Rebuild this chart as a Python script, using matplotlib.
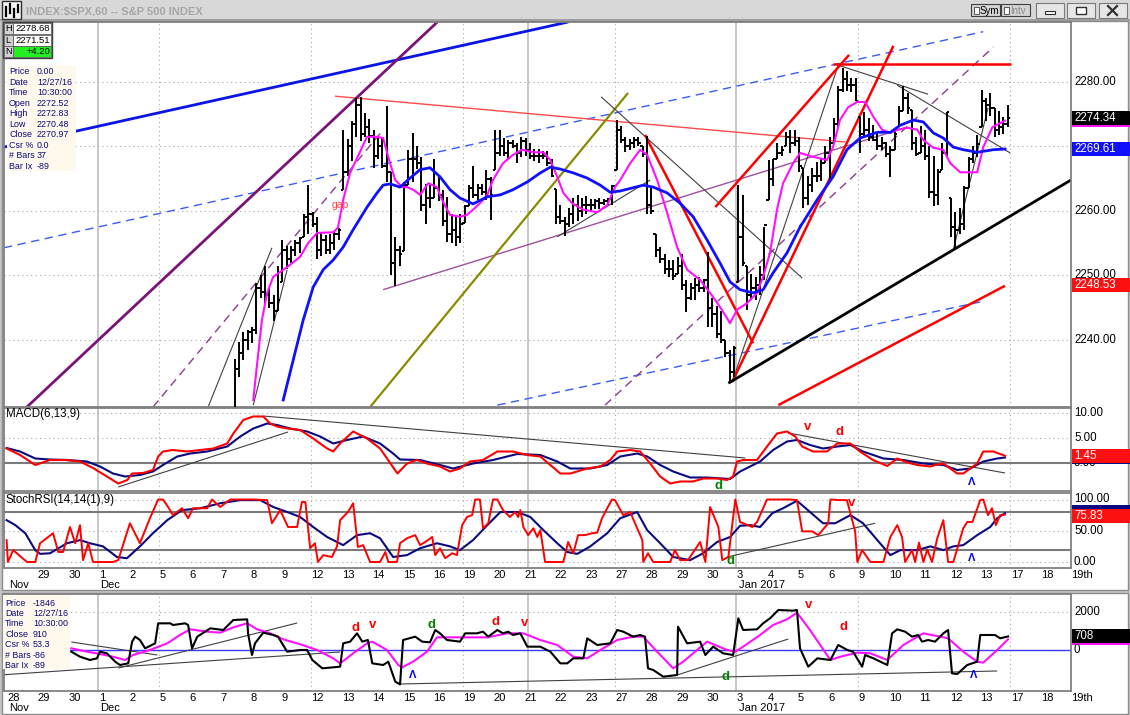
import matplotlib
matplotlib.use("Agg")
import matplotlib.pyplot as plt
from matplotlib.patches import Rectangle
from matplotlib.lines import Line2D
from matplotlib.transforms import blended_transform_factory

plt.rcParams['font.family'] = ['Liberation Sans', 'DejaVu Sans']

# x is the hourly bar number: 7 bars per session, bar 0 = Nov 28 9:30
DAY_LABELS = ["28", "29", "30", "1", "2", "5", "6", "7", "8", "9", "12", "13", "14",
              "15", "16", "19", "20", "21", "22", "23", "27", "28", "29", "30", "3",
              "4", "5", "6", "9", "10", "11", "12", "13", "17", "18", "19th"]
MONTH_LABELS = [("Nov", 0), ("Dec", 3), ("Jan 2017", 24)]
BARS_PER_DAY = 7

# hourly SPX bars from Dec 7 9:30 (earlier bars sit below the visible range)
FIRST_BAR = 49
OPEN_FIRST = 2209.5
HIGH = [
    2213.0, 2216.0, 2224.0, 2237.0, 2239.7, 2241.2, 2241.6,   # Dec 7
    2242.0, 2248.8, 2250.0, 2251.5, 2248.0, 2247.0, 2251.5,   # Dec 8
    2255.5, 2254.5, 2254.5, 2255.5, 2256.0, 2259.5, 2264.0,   # Dec 9
    2259.8, 2259.0, 2256.7, 2256.2, 2256.5, 2256.7, 2257.3,   # Dec 12
    2272.6, 2271.1, 2274.0, 2277.5, 2277.7, 2275.2, 2274.2,   # Dec 13
    2272.6, 2271.3, 2271.5, 2276.2, 2266.0, 2256.0, 2254.5,   # Dec 14
    2264.5, 2269.5, 2272.1, 2270.0, 2268.3, 2264.2, 2264.0,   # Dec 15
    2268.0, 2265.5, 2263.3, 2262.2, 2259.6, 2259.2, 2259.5,   # Dec 16
    2261.0, 2264.0, 2267.0, 2264.2, 2264.2, 2266.3, 2265.3,   # Dec 19
    2272.6, 2272.6, 2271.3, 2271.0, 2271.0, 2270.5, 2271.5,   # Dec 20
    2271.3, 2270.5, 2269.6, 2269.6, 2269.3, 2269.3, 2268.0,   # Dec 21
    2263.4, 2261.0, 2259.1, 2260.5, 2262.0, 2262.5, 2262.0,   # Dec 22
    2262.4, 2261.8, 2261.8, 2262.0, 2261.8, 2262.0, 2264.0,   # Dec 23
    2274.1, 2273.1, 2271.5, 2271.2, 2271.5, 2271.5, 2270.0,   # Dec 27
    2271.7, 2263.5, 2256.5, 2254.4, 2253.4, 2252.4, 2252.4,   # Dec 28
    2252.9, 2253.4, 2249.3, 2248.8, 2249.6, 2249.8, 2249.5,   # Dec 29
    2253.6, 2246.5, 2245.2, 2244.5, 2240.0, 2238.5, 2239.0,   # Dec 30
    2264.0, 2262.5, 2251.4, 2250.3, 2249.8, 2251.4, 2257.5,   # Jan 3
    2267.9, 2268.0, 2270.5, 2270.0, 2272.3, 2272.6, 2272.6,   # Jan 4
    2271.5, 2266.6, 2265.5, 2266.6, 2267.6, 2268.2, 2270.0,   # Jan 5
    2271.4, 2274.4, 2279.4, 2282.1, 2281.7, 2280.6, 2280.6,   # Jan 6
    2274.5, 2275.3, 2274.4, 2273.4, 2272.3, 2271.4, 2270.7,   # Jan 9
    2270.0, 2272.6, 2276.2, 2279.3, 2278.3, 2275.7, 2271.5,   # Jan 10
    2273.1, 2272.6, 2270.0, 2268.5, 2266.5, 2270.5, 2275.3,   # Jan 11
    2262.0, 2259.8, 2260.5, 2263.8, 2268.4, 2270.0, 2271.8,   # Jan 12
    2278.7, 2277.5, 2278.3, 2276.0, 2275.5, 2274.5, 2276.5,   # Jan 13
]
LOW = [
    2208.9, 2211.0, 2213.0, 2224.0, 2234.3, 2236.9, 2238.5,
    2239.5, 2241.0, 2246.5, 2245.5, 2245.0, 2243.0, 2244.5,
    2249.0, 2251.0, 2252.0, 2253.0, 2253.5, 2256.0, 2256.5,
    2257.5, 2252.5, 2253.0, 2253.4, 2253.4, 2253.9, 2255.5,
    2263.3, 2265.4, 2267.8, 2271.5, 2270.9, 2271.5, 2270.5,
    2266.6, 2268.0, 2266.6, 2264.5, 2250.0, 2248.3, 2251.5,
    2253.8, 2264.0, 2264.5, 2266.5, 2260.0, 2258.0, 2260.5,
    2262.0, 2261.5, 2257.6, 2255.2, 2255.0, 2254.5, 2255.0,
    2258.2, 2260.7, 2262.0, 2261.7, 2262.5, 2261.7, 2258.6,
    2266.4, 2268.5, 2268.5, 2268.0, 2269.8, 2267.5, 2268.3,
    2268.5, 2268.0, 2267.7, 2267.4, 2268.0, 2267.0, 2265.2,
    2258.0, 2258.0, 2256.1, 2257.5, 2258.0, 2258.5, 2259.0,
    2259.5, 2260.0, 2260.3, 2260.3, 2261.0, 2261.0, 2261.0,
    2266.4, 2270.5, 2269.1, 2269.5, 2269.8, 2270.0, 2268.4,
    2259.6, 2259.6, 2252.9, 2251.9, 2250.3, 2249.8, 2249.3,
    2250.3, 2247.7, 2244.4, 2246.2, 2246.2, 2247.5, 2247.5,
    2242.0, 2242.0, 2240.3, 2239.5, 2237.4, 2233.5, 2234.3,
    2249.0, 2251.4, 2244.7, 2246.2, 2246.2, 2247.0, 2249.3,
    2261.7, 2263.8, 2268.0, 2268.5, 2270.0, 2269.0, 2270.0,
    2266.1, 2260.5, 2261.0, 2263.0, 2264.5, 2264.7, 2267.4,
    2264.5, 2270.5, 2273.0, 2278.5, 2278.6, 2278.5, 2277.0,
    2269.0, 2271.4, 2270.9, 2270.9, 2269.5, 2269.5, 2268.4,
    2265.3, 2269.5, 2273.0, 2275.5, 2275.0, 2269.5, 2268.5,
    2269.0, 2267.9, 2262.0, 2260.8, 2261.0, 2266.3, 2268.4,
    2256.0, 2254.3, 2256.5, 2257.0, 2263.5, 2267.4, 2268.4,
    2273.0, 2274.0, 2274.7, 2271.5, 2271.8, 2272.0, 2273.0,
]
CLOSE = [
    2212.0, 2214.0, 2223.0, 2235.5, 2238.0, 2240.0, 2241.3,
    2241.5, 2248.0, 2247.5, 2247.0, 2245.8, 2244.5, 2246.2,
    2254.0, 2252.5, 2254.0, 2255.0, 2255.8, 2259.0, 2259.5,
    2258.0, 2254.0, 2255.5, 2254.0, 2255.0, 2256.5, 2257.0,
    2266.0, 2270.0, 2273.5, 2276.5, 2272.0, 2273.0, 2271.7,
    2268.5, 2270.0, 2267.0, 2266.0, 2252.0, 2254.0, 2253.3,
    2264.0, 2268.0, 2268.0, 2267.5, 2261.0, 2262.0, 2262.0,
    2263.5, 2262.5, 2258.5, 2256.5, 2257.0, 2256.0, 2258.0,
    2260.8, 2263.5, 2262.5, 2263.5, 2263.0, 2265.0, 2262.5,
    2269.0, 2270.0, 2269.0, 2270.5, 2270.0, 2269.0, 2270.8,
    2269.5, 2268.5, 2268.5, 2268.5, 2268.5, 2267.5, 2265.5,
    2259.0, 2258.5, 2258.0, 2259.5, 2261.0, 2260.0, 2261.0,
    2261.0, 2261.0, 2261.5, 2261.2, 2261.5, 2261.8, 2263.8,
    2272.5, 2271.0, 2270.0, 2270.5, 2271.0, 2270.5, 2268.9,
    2261.0, 2260.0, 2254.0, 2252.5, 2251.0, 2251.0, 2249.9,
    2251.5, 2248.5, 2246.5, 2248.0, 2248.5, 2248.0, 2249.3,
    2245.0, 2244.0, 2241.0, 2240.0, 2238.0, 2235.0, 2238.8,
    2256.0, 2252.0, 2247.0, 2248.0, 2248.5, 2250.0, 2257.8,
    2265.0, 2268.0, 2269.0, 2269.5, 2271.5, 2270.5, 2270.8,
    2267.0, 2262.0, 2264.0, 2265.5, 2265.5, 2267.5, 2269.0,
    2270.5, 2273.5, 2278.8, 2280.5, 2279.5, 2279.5, 2277.0,
    2272.0, 2272.5, 2271.5, 2271.0, 2270.0, 2270.5, 2268.9,
    2269.5, 2272.0, 2275.5, 2277.5, 2276.0, 2270.5, 2268.9,
    2270.0, 2268.5, 2263.0, 2262.5, 2266.0, 2269.0, 2275.3,
    2257.5, 2257.0, 2258.0, 2263.5, 2268.0, 2269.0, 2270.4,
    2277.0, 2276.5, 2276.0, 2272.5, 2273.0, 2273.5, 2274.34,
]

# price averages (bar, price)
PINK_MA = [(56.8, 2230.7), (57.7, 2236.4), (58.8, 2243.1), (60.0, 2247.3), (61.4, 2249.8),
           (64.6, 2251.3), (67.6, 2252.9), (69.4, 2255.0), (71.5, 2256.6), (75.2, 2256.7),
           (76.3, 2257.4), (77.5, 2261.7), (79.1, 2265.9), (80.7, 2268.2), (83.0, 2271.5),
           (85.3, 2271.5), (86.7, 2271.3), (88.3, 2267.4), (89.5, 2264.8), (91.1, 2263.7),
           (92.2, 2263.7), (93.6, 2263.3), (95.2, 2262.5), (97.1, 2264.3), (99.1, 2263.7),
           (100.3, 2261.7), (102.1, 2259.4), (104.4, 2259.1), (106.0, 2259.4), (107.4, 2260.2),
           (109.0, 2261.2), (110.7, 2262.5), (112.0, 2264.8), (114.3, 2267.4), (116.6, 2268.7),
           (118.7, 2269.5), (121.3, 2269.1), (123.6, 2269.1), (125.2, 2267.9), (126.8, 2265.3),
           (128.2, 2262.8), (130.2, 2261.2), (132.8, 2260.2), (136.0, 2259.8), (138.3, 2260.9),
           (140.1, 2263.7), (141.3, 2264.8), (143.6, 2267.4), (145.9, 2269.5), (147.5, 2268.7),
           (149.8, 2264.8), (152.1, 2259.7), (154.4, 2254.4), (156.7, 2250.9), (159.7, 2249.3),
           (162.0, 2247.3), (164.3, 2245.1), (166.6, 2242.6), (168.2, 2244.7), (170.5, 2245.7),
           (172.8, 2247.3), (174.2, 2249.8), (175.8, 2253.5), (177.4, 2260.2), (178.8, 2264.3),
           (181.1, 2267.4), (182.7, 2269.0), (185.7, 2268.4), (188.9, 2267.9), (190.3, 2269.9),
           (191.9, 2274.1), (193.8, 2276.1), (195.9, 2276.9), (197.7, 2276.9), (199.6, 2274.6),
           (201.6, 2272.6), (203.5, 2272.1), (205.1, 2272.6), (207.4, 2272.9), (209.7, 2272.6),
           (211.1, 2271.0), (213.4, 2269.8), (215.7, 2269.5), (217.3, 2267.4), (219.6, 2266.0),
           (221.9, 2266.0), (223.5, 2266.0), (224.9, 2269.9), (227.0, 2273.0), (229.9, 2274.0)]
BLUE_MA = [(63.7, 2230.7), (66.0, 2236.9), (68.3, 2243.1), (70.6, 2248.2), (72.9, 2250.9),
           (75.2, 2252.4), (77.5, 2254.4), (79.8, 2257.1), (83.0, 2260.6), (85.3, 2262.8),
           (86.7, 2264.0), (88.3, 2264.2), (90.6, 2263.7), (92.9, 2265.1), (95.2, 2266.4),
           (97.5, 2266.7), (99.8, 2265.3), (102.1, 2263.3), (104.4, 2262.0), (107.4, 2261.1),
           (110.7, 2262.2), (113.7, 2262.5), (116.6, 2263.3), (119.9, 2264.5), (122.9, 2265.9),
           (125.2, 2266.8), (127.5, 2266.5), (130.5, 2265.9), (133.7, 2265.1), (136.7, 2264.0),
           (139.0, 2262.9), (141.3, 2263.1), (146.6, 2264.0), (148.9, 2263.7), (152.1, 2262.8),
           (155.1, 2261.2), (158.1, 2259.1), (161.3, 2255.5), (164.3, 2251.9), (166.6, 2249.0),
           (168.9, 2247.8), (171.9, 2247.3), (174.2, 2247.8), (176.5, 2250.4), (179.7, 2253.5),
           (182.7, 2257.5), (186.6, 2261.7), (190.3, 2265.3), (193.5, 2269.5), (196.5, 2271.3),
           (200.5, 2272.2), (203.5, 2272.2), (205.8, 2273.3), (208.8, 2274.1), (211.1, 2273.8),
           (213.4, 2272.1), (215.7, 2271.3), (218.0, 2269.9), (220.3, 2269.5), (223.5, 2269.1),
           (227.2, 2269.5), (229.9, 2269.61)]

# hand-drawn lines on the price pane (x0, p0, x1, p1)
BLUE_THICK = [(-0.6, 2269.9, 129.3, 2289.3)]
PURPLE_THICK = [(4.5, 2229.5, 99.2, 2289.3)]
PURPLE_DASHED = [(33.7, 2229.6, 86.5, 2272.4), (137.8, 2229.9, 227.2, 2285.4)]
OLIVE_LINE = [(83.7, 2229.6, 143.1, 2278.3)]
RED_THIN = [(75.6, 2277.8, 193.1, 2270.7)]
BLUE_DASHED = [(-0.6, 2254.3, 224.9, 2287.8), (113.0, 2229.9, 224.2, 2245.9)]
PURPLE_THIN = [(86.7, 2247.8, 207.4, 2273.0)]
RED_THICK = [(147.0, 2271.8, 171.9, 2239.5), (167.1, 2233.5, 204.2, 2285.6),
             (163.2, 2260.6, 194.0, 2284.2), (190.3, 2282.8, 231.3, 2282.8),
             (177.7, 2229.9, 229.9, 2248.4)]
BLACK_THICK = [(166.2, 2233.3, 245.1, 2264.8)]
BLACK_THIN = [(126.8, 2256.0, 148.2, 2264.8), (136.9, 2277.7, 183.2, 2249.6),
              (167.1, 2233.5, 191.5, 2282.6), (191.5, 2282.6, 212.2, 2278.1),
              (205.1, 2279.5, 231.1, 2269.0), (218.0, 2254.0, 226.0, 2276.0),
              (46.4, 2229.6, 61.1, 2254.3), (56.8, 2229.9, 64.6, 2250.9)]

# MACD(6,13,9)
MACD_LINE = [(0, 2.9), (3.1, 1.6), (6.6, -0.4), (10.0, 0.6), (13.5, 0.6), (16.9, 0.3), (19.9, -1.0),
             (23.1, -2.7), (25.7, -4.1), (27.8, -3.4), (28.9, -2.1), (31.4, -2.0), (33.7, -1.4),
             (34.9, 1.3), (36.0, 2.3), (38.3, 2.6), (41.6, 2.3), (44.6, 2.6), (47.6, 2.9), (50.8, 3.9),
             (52.2, 5.9), (54.5, 8.6), (56.8, 9.3), (59.1, 9.3), (60.7, 7.9), (62.3, 7.3), (64.6, 6.9),
             (67.6, 6.6), (70.6, 4.9), (73.8, 2.9), (75.2, 2.3), (76.8, 3.9), (79.8, 6.3), (83.0, 4.9),
             (86.0, 2.9), (87.6, 0.9), (90.0, -2.1), (92.2, -0.1), (94.5, 0.6), (96.8, -0.1),
             (99.8, -0.7), (102.1, -1.7), (104.4, -1.1), (106.7, 0.3), (109.7, 0.6), (113.0, 2.3),
             (116.6, 2.3), (119.9, 1.6), (122.9, 1.3), (125.2, -0.4), (127.5, -2.1), (129.8, -2.1),
             (133.7, -1.1), (136.7, -0.7), (139.0, 0.6), (140.6, 2.3), (143.6, 2.6), (145.9, 2.3),
             (148.2, -0.1), (150.5, -2.7), (152.8, -4.1), (155.1, -3.7), (158.1, -3.7), (160.4, -3.1),
             (163.6, -3.1), (165.9, -3.4), (167.3, -2.7), (168.2, 0.3), (169.6, 0.6), (172.8, 0.6),
             (175.1, 3.3), (177.4, 5.9), (179.7, 6.3), (181.6, 5.3), (183.2, 3.3), (185.7, 2.3),
             (188.9, 2.3), (191.3, 3.9), (194.3, 3.9), (196.5, 2.3), (199.5, 0.6), (202.8, -0.6),
             (205.1, 0.9), (207.4, 0.1), (209.7, -0.4), (212.7, -0.7), (213.8, -0.4), (215.7, -0.1),
             (217.3, -1.1), (218.9, -2.1), (220.3, -2.1), (221.9, -1.1), (223.5, -0.1), (224.9, 2.3),
             (227.2, 2.3), (229.9, 1.45)]
MACD_SIGNAL = [(0, 3.0), (3.1, 2.3), (6.6, 0.9), (10.0, 0.7), (13.9, 0.6), (18.5, 0.3), (21.5, -0.7),
               (24.5, -2.1), (27.3, -2.7), (30.7, -2.4), (33.7, -1.7), (36.0, -0.4), (39.3, 1.3),
               (42.3, 1.9), (46.2, 2.3), (50.8, 3.3), (53.8, 5.3), (56.8, 6.9), (60.0, 7.9),
               (62.3, 7.6), (65.3, 6.9), (69.2, 6.3), (72.2, 5.3), (75.2, 3.9), (78.4, 4.6),
               (82.1, 5.3), (86.0, 3.9), (89.0, 1.9), (90.6, 0.7), (95.2, 0.6), (99.8, -0.4),
               (102.8, -1.1), (107.4, -0.1), (112.0, 0.6), (117.6, 1.8), (122.9, 1.6), (126.8, 0.3),
               (129.8, -1.1), (134.4, -1.1), (138.3, -0.4), (141.3, 1.3), (145.2, 1.9), (147.5, 1.3),
               (150.5, -0.4), (153.5, -1.7), (157.4, -2.9), (161.3, -2.9), (166.6, -3.2),
               (168.9, -1.7), (171.2, -0.7), (173.5, 0.3), (176.5, 2.6), (179.7, 4.3), (182.0, 4.6),
               (185.0, 3.6), (188.0, 2.9), (191.3, 3.3), (194.3, 3.6), (197.2, 2.3), (201.9, 0.9),
               (206.5, 0.6), (211.1, -0.1), (215.7, -0.4), (218.9, -1.4), (221.9, -1.1),
               (224.9, 0.3), (228.1, 0.9), (229.9, 1.1)]
MACD_TRENDS = [(25.7, -4.8, 64.8, 6.2), (59.1, 9.4, 170.1, 1.0), (180.0, 6.0, 229.9, -2.0)]

# StochRSI(14,14(1),9)
STOCH_K = [(0, 35), (0.3, 0), (1.5, 19), (4.7, 0), (6.6, 0), (7.7, 30), (10.7, 46), (11.9, 16),
           (13.0, 16), (14.6, 56), (15.8, 30), (16.9, 59), (17.6, 3), (18.8, 30), (19.9, 0),
           (24.5, 0), (25.7, 3), (28.4, 62), (30.7, 30), (33.0, 70), (34.9, 100), (36.0, 100),
           (37.2, 88), (38.3, 75), (40.4, 86), (41.8, 70), (42.9, 86), (46.2, 86), (47.3, 100),
           (49.2, 88), (51.5, 100), (56.8, 100), (60.0, 99), (61.1, 62), (63.0, 83), (64.8, 56),
           (66.9, 56), (68.0, 96), (68.8, 96), (69.9, 22), (71.0, 30), (71.7, 0), (72.9, 11),
           (74.9, 8), (76.1, 25), (76.8, 67), (78.6, 80), (79.8, 94), (80.9, 24), (82.1, 27),
           (83.7, 0), (86.0, 0), (87.2, 16), (87.9, 0), (89.9, 0), (90.6, 30), (92.2, 38),
           (94.1, 43), (95.2, 27), (96.4, 32), (98.0, 40), (98.7, 11), (99.8, 22), (101.0, 6),
           (102.6, 14), (103.7, 11), (104.9, 59), (106.0, 72), (107.2, 75), (107.9, 100),
           (109.0, 100), (109.7, 54), (110.9, 62), (112.0, 100), (113.0, 100), (114.3, 83),
           (115.9, 72), (117.1, 80), (117.8, 72), (118.3, 83), (119.0, 56), (120.1, 43),
           (121.3, 54), (122.2, 40), (122.9, 51), (124.0, 0), (128.2, 0), (129.3, 32), (130.5, 14),
           (131.6, 43), (133.2, 43), (134.8, 46), (136.0, 47), (137.1, 70), (138.3, 86),
           (139.4, 100), (140.1, 99), (142.0, 75), (143.6, 80), (145.2, 54), (146.4, 35),
           (146.6, 0), (147.7, 14), (148.9, 0), (152.8, 0), (153.9, 19), (155.1, 3), (156.9, 3),
           (159.7, 32), (160.9, 0), (162.0, 88), (163.9, 56), (164.8, 3), (166.2, 8), (167.8, 100),
           (168.9, 64), (171.7, 56), (172.8, 64), (175.1, 100), (180.4, 100), (182.0, 99),
           (183.2, 49), (185.5, 49), (186.9, 43), (189.2, 62), (189.7, 100), (191.9, 99),
           (193.5, 99), (195.4, 49), (195.9, 0), (197.0, 19), (198.9, 0), (201.9, 0), (203.5, 40),
           (205.1, 59), (206.2, 40), (206.9, 0), (208.5, 19), (209.2, 0), (210.1, 31), (211.1, 0),
           (212.0, 20), (213.1, 0), (214.3, 38), (215.7, 67), (216.8, 0), (218.0, 0), (220.3, 54),
           (221.2, 64), (222.4, 64), (224.2, 99), (224.9, 100), (226.0, 75), (226.9, 86),
           (227.8, 59), (228.8, 75), (229.9, 75.83)]
STOCH_D = [(0, 67), (2.0, 59), (4.3, 46), (6.6, 19), (7.7, 13), (10.0, 14), (13.9, 30), (16.9, 35),
           (19.2, 30), (22.2, 25), (25.4, 8), (27.7, 6), (30.7, 25), (33.7, 46), (37.0, 67),
           (40.4, 83), (44.6, 86), (49.2, 94), (53.8, 99), (58.4, 99), (61.4, 88), (64.6, 80),
           (67.6, 72), (70.6, 56), (73.8, 40), (77.5, 27), (80.7, 43), (83.7, 46), (86.0, 38),
           (89.0, 8), (92.2, 11), (95.2, 22), (99.1, 30), (102.1, 25), (104.4, 19), (107.4, 35),
           (110.7, 59), (113.7, 80), (117.6, 80), (120.6, 72), (123.6, 51), (126.8, 30),
           (129.1, 16), (131.4, 13), (134.4, 25), (138.3, 46), (141.3, 70), (145.2, 80),
           (147.5, 51), (150.5, 30), (153.5, 8), (157.4, 3), (160.4, 14), (163.6, 32), (166.6, 40),
           (168.9, 58), (171.2, 59), (173.5, 56), (176.3, 78), (178.8, 86), (182.0, 98),
           (185.0, 80), (188.0, 62), (190.8, 62), (194.3, 75), (197.2, 62), (200.5, 35),
           (203.5, 11), (205.8, 19), (209.7, 19), (212.7, 25), (215.7, 19), (218.0, 25),
           (220.3, 27), (223.5, 43), (226.5, 56), (228.1, 70), (229.9, 78)]
STOCH_TRENDS = [(165.9, 8, 200.0, 62)]

# lower breadth oscillator and its average
OSC = [(14.9, -88), (16.9, -350), (19.2, -522), (20.8, -435), (21.5, -88), (23.1, -174), (25.0, -609),
       (26.1, -783), (28.0, -696), (28.9, 435), (29.6, 696), (30.7, 522), (31.9, 87), (34.2, 348),
       (34.9, 1392), (37.7, 1392), (38.3, 1305), (41.1, 1392), (41.8, 1305), (42.7, 87), (43.9, 696),
       (46.9, 1131), (49.9, 1044), (52.2, 1566), (55.4, 1600), (55.6, 870), (56.5, -261), (57.2, 348),
       (59.1, 905), (61.4, 783), (62.5, 696), (64.6, -87), (67.6, 0), (69.2, 0), (70.4, -522),
       (72.7, -957), (76.8, -870), (77.5, 348), (79.1, 435), (80.7, 870), (81.9, 435), (83.2, 522),
       (84.2, -696), (86.7, -783), (87.9, -609), (89.5, -1653), (90.6, -1793), (91.3, 522),
       (94.1, 696), (95.7, 435), (97.5, 400), (98.7, 1044), (99.8, 870), (101.4, 522), (104.4, 435),
       (105.6, 870), (108.3, 870), (109.7, 957), (110.9, 696), (113.0, 1044), (114.3, 870),
       (115.5, 957), (116.6, 783), (118.3, 870), (119.9, 174), (122.9, 174), (125.2, -87),
       (127.5, -696), (129.1, -696), (130.5, -435), (132.8, -435), (133.7, 609), (136.0, 261),
       (139.0, 348), (140.6, 1044), (142.0, 957), (144.3, 696), (145.9, 783), (147.0, 696),
       (147.7, -957), (148.9, -1044), (151.2, -1392), (154.4, -1305), (154.6, 1218), (156.7, 348),
       (159.7, 435), (160.9, -261), (162.7, 174), (165.0, -174), (167.3, -261), (168.5, 1653),
       (169.6, 1044), (172.8, 1079), (174.2, 1392), (175.8, 1653), (177.7, 2088), (181.1, 2053),
       (182.0, 2088), (182.7, 87), (184.6, -870), (186.7, -435), (189.7, -522), (191.5, 261),
       (193.6, 0), (194.9, -87), (197.0, -870), (197.7, -261), (199.6, -435), (202.8, -783),
       (203.9, 870), (205.1, 1079), (206.9, 957), (208.5, 696), (209.9, 783), (210.8, 435),
       (212.2, 522), (213.8, 435), (215.7, 870), (216.8, 1044), (217.7, -1218), (218.9, -1253),
       (221.2, -783), (223.5, -609), (224.2, 783), (227.6, 783), (228.8, 609), (230.6, 708)]
OSC_MA = [(14.9, 87), (18.5, -87), (21.5, -209), (24.5, -350), (27.3, -522), (29.1, -261), (33.0, 0),
          (37.0, 348), (39.9, 783), (42.3, 1079), (46.2, 957), (49.2, 905), (52.2, 1183), (55.4, 1392),
          (57.7, 1079), (60.7, 870), (63.7, 557), (67.6, 300), (71.5, 0), (75.2, -435), (76.8, -696),
          (79.8, -174), (83.0, 348), (84.2, 435), (87.6, 0), (90.2, -783), (91.1, -905), (93.6, -609),
          (96.8, -87), (99.1, 661), (104.4, 661), (110.7, 661), (115.3, 870), (119.0, 870),
          (122.9, 522), (126.8, 261), (130.5, -350), (133.7, -435), (136.7, 0), (140.6, 522),
          (144.3, 696), (146.6, 696), (149.8, -87), (153.5, -957), (155.8, -609), (161.3, 435),
          (165.9, 0), (167.8, -87), (169.6, 174), (173.5, 783), (176.5, 1305), (179.7, 1600),
          (182.0, 1949), (185.0, 1044), (189.7, -522), (192.0, -350), (195.9, -139), (198.9, -174),
          (202.8, -522), (206.5, 261), (211.1, 870), (215.0, 696), (216.8, 609), (220.3, -87),
          (223.5, -609), (224.9, -661), (228.1, 0), (230.6, 557)]
OSC_TRENDS = [(-1.5, -1305, 76.8, -104), (14.9, 418, 34.7, -261), (25.7, -940, 66.9, 1409),
              (90.6, -1775, 228.1, -1096), (154.4, -1305, 180.0, 574)]

# signal letters (text, colour key, bar, value)
MACD_MARKS = [("v", "r", 184.4, 7.2), ("d", "r", 191.9, 6.2), ("d", "g", 163.9, -4.6), ("^", "b", 222.1, -3.8)]
STOCH_MARKS = [("v", "r", 194.7, 94), ("d", "g", 166.6, 1), ("^", "b", 222.1, 6)]
OSC_MARKS = [("d", "r", 80.3, 1148), ("v", "r", 84.4, 1305), ("^", "b", 93.6, -1305),
             ("d", "g", 97.8, 1305), ("d", "r", 112.5, 1462), ("v", "r", 119.4, 1409),
             ("d", "g", 165.5, -1409), ("v", "r", 184.6, 2349), ("d", "r", 192.6, 1200),
             ("^", "b", 222.6, -1305)]

PRICE_TICKS = [2280, 2260, 2250, 2240]      # 2270.00 is hidden under the average's box
MACD_TICKS = [10, 5, 0]
STOCH_TICKS = [100, 50, 0]
OSC_TICKS = [2000, 0]
LAST_CLOSE, LAST_BLUE, LAST_RED = 2274.34, 2269.61, 2248.53
LAST_MACD, LAST_STOCH, LAST_OSC = 1.45, 75.83, 708

HLN = [("H", "2278.68"), ("L", "2271.51"), ("N", "+4.20")]
INFO_PRICE = [("Price", "0.00"), ("Date", "12/27/16"), ("Time", "10:30:00"), ("Open", "2272.52"),
              ("High", "2272.83"), ("Low", "2270.48"), ("Close", "2270.97"), ("Csr %", "0.0"),
              ("# Bars", "37"), ("Bar Ix", "-89")]
INFO_OSC = [("Price", "-1846"), ("Date", "12/27/16"), ("Time", "10:30:00"), ("Close", "910"),
            ("Csr %", "53.3"), ("# Bars", "-86"), ("Bar Ix", "-89")]

W, H = 1130, 715
NAVY = '#0a0a80'
MARK_COL = {"r": '#ff0000', "g": '#008000', "b": '#0000ff'}


def fx(px):
    return px / W


def fy(py):
    return 1 - py / H


fig = plt.figure(figsize=(W / 100, H / 100), dpi=100)
fig.patch.set_facecolor('#c4c4c4')


def rect(x0, y0, x1, y1, z=1, **kw):
    r = Rectangle((fx(x0), fy(y1)), (x1 - x0) / W, (y1 - y0) / H,
                  transform=fig.transFigure, zorder=z, **kw)
    fig.add_artist(r)
    return r


def label(x, y, s, z=5, **kw):
    kw.setdefault('va', 'center')
    kw.setdefault('ha', 'left')
    return fig.text(fx(x), fy(y), s, zorder=z, **kw)


def seg(x0, y0, x1, y1, **kw):
    fig.add_artist(Line2D([fx(x0), fx(x1)], [fy(y0), fy(y1)], transform=fig.transFigure, **kw))


def panel(x0, y0, x1, y1, ylim):
    ax = fig.add_axes([fx(x0), fy(y1), (x1 - x0) / W, (y1 - y0) / H])
    ax.set_xlim(-0.6, 245.1)
    ax.set_ylim(*ylim)
    ax.set_xticks([])
    ax.set_yticks([])
    for s in ax.spines.values():
        s.set_color('#808080')
        s.set_linewidth(1.3)
    return ax


def py_of(ax, v):
    return H - ax.transData.transform((0, v))[1]


def draw_lines(ax, lines, **kw):
    for x0, y0, x1, y1 in lines:
        ax.plot([x0, x1], [y0, y1], solid_capstyle='butt', **kw)


def grid(ax, hlevels):
    for d in [5, 10, 15, 20, 28, 33]:
        ax.axvline(d * BARS_PER_DAY, color='#a8a8a8', lw=0.8, ls=(0, (1, 3)), zorder=0)
    for b in [3 * BARS_PER_DAY, 120, 24 * BARS_PER_DAY]:
        ax.axvline(b, color='#c4c4c4', lw=1.3, zorder=0)
    for v in hlevels:
        ax.axhline(v, color='#a8a8a8', lw=0.8, ls=(0, (1, 3)), zorder=0)


def marks(ax, items):
    for s, c, x, v in items:
        txt = "\u039b" if s == "^" else s
        ax.text(x, v, txt, color=MARK_COL[c], fontsize=9.5 if s != "^" else 8,
                fontweight='bold', ha='center', va='center', zorder=6)


def axis_label(ax, v, s):
    label(1074, py_of(ax, v), s, fontsize=8.3, color='black')


def value_box(y, s, fc, z=6):
    rect(1072, y - 7, 1130, y + 7, z=z, fc=fc, ec='none')
    label(1074, y, s, z=z + 1, fontsize=8.3, color='white')


# window chrome
rect(0, 0, 1130, 20, z=-3, fc='#d8d8d8', ec='none')
rect(0, 19, 1130, 21, z=-3, fc='#a0a0a0', ec='none')
rect(2, 21, 1128, 590, z=-2, fc='white', ec='#8c8c8c', lw=1)
rect(2, 593, 1128, 714, z=-2, fc='white', ec='#8c8c8c', lw=1)
rect(2, 1, 21, 19, z=2, fc='#f4f4f4', ec='#303030', lw=1)
for x, y0, y1 in [(6, 7, 16), (10, 4, 13), (14, 9, 17), (18, 5, 12)]:
    seg(x, y0, x, y1, color='black', lw=1.6, zorder=3)
label(26, 11, "INDEX:\\$SPX,60 -- S&P 500 INDEX", fontsize=8, fontweight='bold', color='#a6a6a6')
rect(971, 4, 1000, 16, z=2, fc='#d4d4d4', ec='#404040', lw=0.8)
rect(974, 7, 979, 14, z=3, fc='white', ec='#404040', lw=0.6)
label(980, 10.5, "Sym", fontsize=7, color='black')
rect(1001, 4, 1030, 16, z=2, fc='#d4d4d4', ec='#404040', lw=0.8)
rect(1004, 7, 1009, 14, z=3, fc='white', ec='#404040', lw=0.6)
label(1010, 10.5, "Intv", fontsize=7, color='#8c8c8c')
for x0 in [1036, 1067, 1099]:
    rect(x0, 3, x0 + 28, 18, z=2, fc='#e6e6e6', ec='#7a7a7a', lw=0.8)
rect(1045, 11, 1055, 14, z=3, fc='white', ec='#303030', lw=0.8)
rect(1076, 7, 1086, 14, z=3, fc='white', ec='#303030', lw=1)
seg(1108, 6, 1117, 15, color='#303030', lw=1.6, zorder=3)
seg(1108, 15, 1117, 6, color='#303030', lw=1.6, zorder=3)

# ---- price pane ----
ax = panel(4, 22, 1071, 407, (2229.61, 2289.3))
grid(ax, [2280, 2270, 2260, 2250, 2240])
draw_lines(ax, BLUE_DASHED, color='#3a5cff', lw=1.0, ls=(0, (6, 4)), zorder=2)
draw_lines(ax, PURPLE_DASHED, color='#8e3a8e', lw=1.0, ls=(0, (6, 4)), zorder=2)
draw_lines(ax, PURPLE_THIN, color='#a050a0', lw=1.0, zorder=2)
draw_lines(ax, RED_THIN, color='#ff4a4a', lw=1.0, zorder=2)
draw_lines(ax, OLIVE_LINE, color='#8a8a00', lw=1.6, zorder=2)
draw_lines(ax, BLUE_THICK, color='#0a14e6', lw=2.0, zorder=2)
draw_lines(ax, PURPLE_THICK, color='#7a1478', lw=2.0, zorder=2)
draw_lines(ax, BLACK_THIN, color='#404040', lw=0.8, zorder=2)
draw_lines(ax, RED_THICK, color='#ff0000', lw=1.8, zorder=2)
draw_lines(ax, BLACK_THICK, color='black', lw=2.0, zorder=2)

xs = [FIRST_BAR + i + 0.5 for i in range(len(HIGH))]
opens = []
prev = OPEN_FIRST
for h, l, c in zip(HIGH, LOW, CLOSE):
    opens.append(min(max(prev, l), h))
    prev = c
ax.vlines(xs, LOW, HIGH, color='black', lw=1.4, zorder=3)
ax.hlines(opens, [x - 0.55 for x in xs], xs, color='black', lw=1.4, zorder=3)
ax.hlines(CLOSE, xs, [x + 0.55 for x in xs], color='black', lw=1.4, zorder=3)
ax.plot(*zip(*PINK_MA), color='#ff10ff', lw=1.5, zorder=4)
ax.plot(*zip(*BLUE_MA), color='#1010ff', lw=2.0, zorder=4)
ax.text(76.8, 2260.9, "gap", color='#ff4040', fontsize=7.5, ha='center', va='center', zorder=5)
for v in PRICE_TICKS:
    axis_label(ax, v, "%.2f" % v)
y = py_of(ax, LAST_CLOSE)
rect(1072, y + 6, 1130, y + 9, z=5, fc='#ff10ff', ec='none')
value_box(y, "%.2f" % LAST_CLOSE, 'black')
value_box(py_of(ax, LAST_BLUE), "%.2f" % LAST_BLUE, '#1010ff')
value_box(py_of(ax, LAST_RED), "%.2f" % LAST_RED, '#ff1010')

# info boxes over the price pane
rect(3, 22, 52, 58, z=7, fc='#c8c8c8', ec='#404040', lw=1)
for i, (k, v) in enumerate(HLN):
    y0 = 23 + i * 11.7
    rect(4, y0, 13, y0 + 11, z=8, fc='#d0d0d0', ec='#606060', lw=0.6)
    rect(13, y0, 51, y0 + 11, z=8, fc='#22ee22' if k == "N" else 'white', ec='#606060', lw=0.6)
    label(5.5, y0 + 5.6, k, z=9, fontsize=6.6, color='black')
    label(50, y0 + 5.6, v, z=9, fontsize=6.8, color='black', ha='right')
rect(7, 66, 76, 171, z=7, fc='#fff8ec', ec='none')
for i, (k, v) in enumerate(INFO_PRICE):
    label(9, 71.7 + 10.5 * i, k, z=8, fontsize=6.4, color=NAVY)
    label(37, 71.7 + 10.5 * i, v, z=8, fontsize=6.4, color=NAVY)

# ---- MACD pane ----
ax = panel(4, 408, 1071, 491, (-5.6, 11.0))
grid(ax, [10, 5])
ax.axhline(0, color='#7a7a7a', lw=1.5, zorder=1)
draw_lines(ax, MACD_TRENDS, color='#404040', lw=0.8, zorder=2)
ax.plot(*zip(*MACD_LINE), color='#ff0000', lw=1.5, zorder=4)
ax.plot(*zip(*MACD_SIGNAL), color=NAVY, lw=1.5, zorder=3)
marks(ax, MACD_MARKS)
label(6, 414, "MACD(6,13,9)", fontsize=8.3, color='black')
for v in MACD_TICKS:
    axis_label(ax, v, "%.2f" % v)
y = py_of(ax, LAST_MACD)
rect(1072, y + 6, 1130, y + 8.5, z=5, fc=NAVY, ec='none')
value_box(y, "%.2f" % LAST_MACD, '#ff1010')

# ---- StochRSI pane ----
ax = panel(4, 493, 1071, 568, (-9.6, 110.4))
grid(ax, [100, 50, 0])
ax.axhline(80, color='#7a7a7a', lw=1.5, zorder=1)
ax.axhline(20, color='#7a7a7a', lw=1.5, zorder=1)
draw_lines(ax, STOCH_TRENDS, color='#404040', lw=0.8, zorder=2)
ax.plot(*zip(*STOCH_K), color='#ff0000', lw=1.4, zorder=4)
ax.plot(*zip(*STOCH_D), color=NAVY, lw=1.5, zorder=3)
marks(ax, STOCH_MARKS)
label(6, 500, "StochRSI(14,14(1),9)", fontsize=8.3, color='black')
for v in STOCH_TICKS:
    axis_label(ax, v, "%.2f" % v)
y = py_of(ax, LAST_STOCH) + 1.5
rect(1072, y - 11, 1130, y - 5, z=5, fc=NAVY, ec='none')
value_box(y, "%.2f" % LAST_STOCH, '#ff1010')

tr = blended_transform_factory(ax.transData, fig.transFigure)
for d, s in enumerate(DAY_LABELS):
    if d == 0:
        continue
    ax.text(d * BARS_PER_DAY + 0.2, fy(575), s, transform=tr, fontsize=8,
            ha='left', va='center', clip_on=False)
for s, d in MONTH_LABELS:
    ax.text(d * BARS_PER_DAY + 0.6, fy(585), s, transform=tr, fontsize=8,
            ha='left', va='center', clip_on=False)

# ---- lower oscillator pane ----
ax = panel(4, 594, 1071, 691, (-2140, 2923))
grid(ax, [2000])
ax.axhline(0, color='#3a3aff', lw=1.0, zorder=1)
draw_lines(ax, OSC_TRENDS, color='#404040', lw=0.8, zorder=2)
ax.plot(*zip(*OSC_MA), color='#ff10ff', lw=1.5, zorder=3)
ax.plot(*zip(*OSC), color='black', lw=1.5, zorder=4)
marks(ax, OSC_MARKS)
for v in OSC_TICKS:
    axis_label(ax, v, "%d" % v)
y = py_of(ax, LAST_OSC)
rect(1072, y + 6, 1130, y + 9, z=5, fc='#ff10ff', ec='none')
value_box(y, "%d" % LAST_OSC, 'black')

rect(3, 595, 70, 669, z=7, fc='#fff8ec', ec='none')
for i, (k, v) in enumerate(INFO_OSC):
    label(5, 603 + 10.4 * i, k, z=8, fontsize=6.4, color=NAVY)
    label(33, 603 + 10.4 * i, v, z=8, fontsize=6.4, color=NAVY)

tr = blended_transform_factory(ax.transData, fig.transFigure)
for d, s in enumerate(DAY_LABELS):
    ax.text(d * BARS_PER_DAY + 0.2, fy(698), s, transform=tr, fontsize=8,
            ha='left', va='center', clip_on=False)
for s, d in MONTH_LABELS:
    ax.text(d * BARS_PER_DAY + 0.6, fy(708), s, transform=tr, fontsize=8,
            ha='left', va='center', clip_on=False)

fig.savefig("out.png", dpi=100, facecolor=fig.get_facecolor())
